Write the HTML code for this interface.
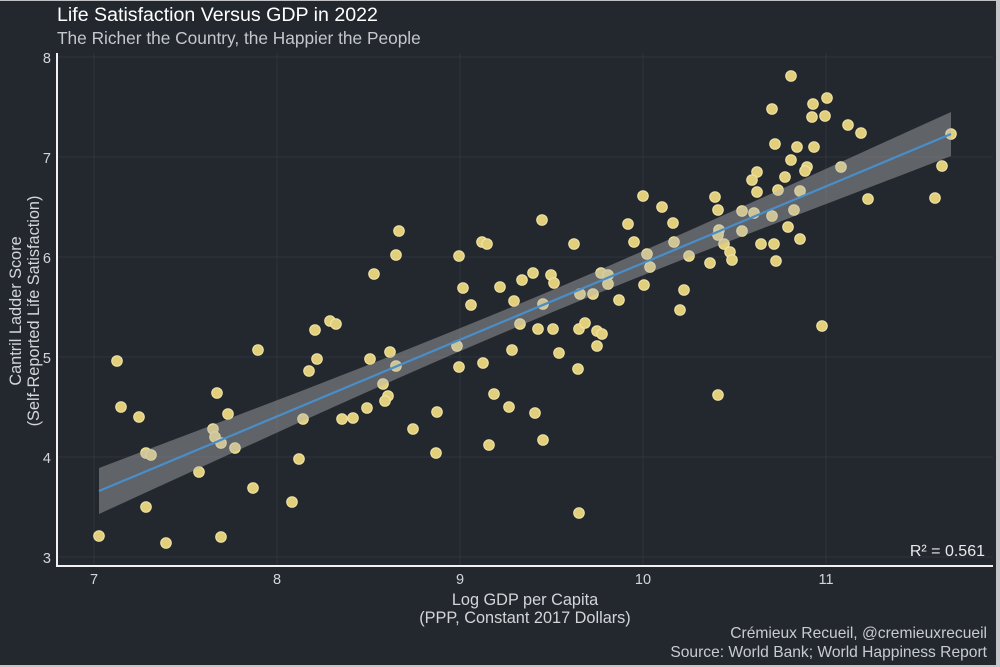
<!DOCTYPE html>
<html><head><meta charset="utf-8"><style>
html,body{margin:0;padding:0;background:#23282f;}
svg{display:block;}
text{font-family:"Liberation Sans",Arial,sans-serif;}
</style></head><body>
<svg width="1000" height="667" viewBox="0 0 1000 667" xmlns="http://www.w3.org/2000/svg">
<rect x="0" y="0" width="1000" height="667" fill="#23282f"/>
<rect x="0" y="0" width="1000" height="1" fill="#bfc1c4"/>
<rect x="996" y="0" width="4" height="667" fill="#c4c6c9"/>
<rect x="0" y="665" width="1000" height="2" fill="#c4c6c9"/>
<g stroke="#2f353d" stroke-width="1">
<line x1="94" y1="53" x2="94" y2="565"/>
<line x1="277" y1="53" x2="277" y2="565"/>
<line x1="460" y1="53" x2="460" y2="565"/>
<line x1="643" y1="53" x2="643" y2="565"/>
<line x1="826" y1="53" x2="826" y2="565"/>
<line x1="58" y1="57" x2="993" y2="57"/>
<line x1="58" y1="157" x2="993" y2="157"/>
<line x1="58" y1="257" x2="993" y2="257"/>
<line x1="58" y1="357" x2="993" y2="357"/>
<line x1="58" y1="457" x2="993" y2="457"/>
<line x1="58" y1="557" x2="993" y2="557"/>
</g>
<g fill="#e2cf7b" stroke="#f2e5a9" stroke-width="1">
<circle cx="99" cy="536" r="5.3"/><circle cx="117" cy="361" r="5.3"/><circle cx="121" cy="407" r="5.3"/><circle cx="139" cy="417" r="5.3"/><circle cx="146" cy="453" r="5.3"/><circle cx="151" cy="455" r="5.3"/><circle cx="146" cy="507" r="5.3"/><circle cx="166" cy="543" r="5.3"/><circle cx="199" cy="472" r="5.3"/><circle cx="217" cy="393" r="5.3"/><circle cx="213" cy="429" r="5.3"/><circle cx="215" cy="437" r="5.3"/><circle cx="221" cy="443" r="5.3"/><circle cx="228" cy="414" r="5.3"/><circle cx="235" cy="448" r="5.3"/><circle cx="221" cy="537" r="5.3"/><circle cx="253" cy="488" r="5.3"/><circle cx="258" cy="350" r="5.3"/><circle cx="292" cy="502" r="5.3"/><circle cx="299" cy="459" r="5.3"/><circle cx="303" cy="419" r="5.3"/><circle cx="309" cy="371" r="5.3"/><circle cx="315" cy="330" r="5.3"/><circle cx="317" cy="359" r="5.3"/><circle cx="330" cy="321" r="5.3"/><circle cx="336" cy="324" r="5.3"/><circle cx="342" cy="419" r="5.3"/><circle cx="353" cy="418" r="5.3"/><circle cx="367" cy="408" r="5.3"/><circle cx="370" cy="359" r="5.3"/><circle cx="374" cy="274" r="5.3"/>
<circle cx="383" cy="384" r="5.3"/><circle cx="388" cy="396" r="5.3"/><circle cx="385" cy="401" r="5.3"/><circle cx="396" cy="366" r="5.3"/><circle cx="390" cy="352" r="5.3"/><circle cx="396" cy="255" r="5.3"/><circle cx="399" cy="231" r="5.3"/><circle cx="413" cy="429" r="5.3"/><circle cx="437" cy="412" r="5.3"/><circle cx="436" cy="453" r="5.3"/><circle cx="459" cy="256" r="5.3"/><circle cx="463" cy="288" r="5.3"/><circle cx="471" cy="305" r="5.3"/><circle cx="457" cy="346" r="5.3"/><circle cx="459" cy="367" r="5.3"/><circle cx="482" cy="242" r="5.3"/><circle cx="487" cy="244" r="5.3"/><circle cx="483" cy="363" r="5.3"/><circle cx="494" cy="394" r="5.3"/><circle cx="509" cy="407" r="5.3"/><circle cx="500" cy="287" r="5.3"/><circle cx="514" cy="301" r="5.3"/><circle cx="512" cy="350" r="5.3"/><circle cx="520" cy="324" r="5.3"/><circle cx="522" cy="280" r="5.3"/><circle cx="533" cy="273" r="5.3"/><circle cx="542" cy="220" r="5.3"/><circle cx="538" cy="329" r="5.3"/><circle cx="535" cy="413" r="5.3"/><circle cx="543" cy="440" r="5.3"/><circle cx="489" cy="445" r="5.3"/><circle cx="543" cy="304" r="5.3"/><circle cx="551" cy="275" r="5.3"/><circle cx="554" cy="283" r="5.3"/><circle cx="553" cy="329" r="5.3"/><circle cx="559" cy="353" r="5.3"/><circle cx="574" cy="244" r="5.3"/><circle cx="578" cy="369" r="5.3"/><circle cx="579" cy="329" r="5.3"/><circle cx="585" cy="323" r="5.3"/><circle cx="580" cy="294" r="5.3"/><circle cx="593" cy="294" r="5.3"/><circle cx="597" cy="331" r="5.3"/><circle cx="602" cy="334" r="5.3"/><circle cx="597" cy="346" r="5.3"/><circle cx="601" cy="273" r="5.3"/><circle cx="608" cy="275" r="5.3"/><circle cx="608" cy="284" r="5.3"/><circle cx="619" cy="300" r="5.3"/><circle cx="628" cy="224" r="5.3"/><circle cx="634" cy="242" r="5.3"/><circle cx="643" cy="196" r="5.3"/><circle cx="644" cy="285" r="5.3"/><circle cx="647" cy="254" r="5.3"/><circle cx="650" cy="267" r="5.3"/><circle cx="662" cy="207" r="5.3"/><circle cx="673" cy="223" r="5.3"/><circle cx="674" cy="242" r="5.3"/><circle cx="684" cy="290" r="5.3"/><circle cx="680" cy="310" r="5.3"/><circle cx="689" cy="256" r="5.3"/><circle cx="579" cy="513" r="5.3"/><circle cx="718" cy="395" r="5.3"/>
<circle cx="791" cy="76" r="5.3"/><circle cx="772" cy="109" r="5.3"/><circle cx="813" cy="104" r="5.3"/><circle cx="827" cy="98" r="5.3"/><circle cx="812" cy="117" r="5.3"/><circle cx="825" cy="116" r="5.3"/><circle cx="848" cy="125" r="5.3"/><circle cx="861" cy="133" r="5.3"/><circle cx="951" cy="134" r="5.3"/><circle cx="775" cy="144" r="5.3"/><circle cx="797" cy="147" r="5.3"/><circle cx="814" cy="147" r="5.3"/><circle cx="791" cy="160" r="5.3"/><circle cx="807" cy="167" r="5.3"/><circle cx="805" cy="171" r="5.3"/><circle cx="841" cy="167" r="5.3"/><circle cx="942" cy="166" r="5.3"/><circle cx="757" cy="172" r="5.3"/><circle cx="752" cy="180" r="5.3"/><circle cx="785" cy="177" r="5.3"/><circle cx="757" cy="192" r="5.3"/><circle cx="778" cy="190" r="5.3"/><circle cx="800" cy="191" r="5.3"/><circle cx="868" cy="199" r="5.3"/><circle cx="935" cy="198" r="5.3"/><circle cx="715" cy="197" r="5.3"/><circle cx="718" cy="210" r="5.3"/><circle cx="742" cy="211" r="5.3"/><circle cx="754" cy="213" r="5.3"/><circle cx="772" cy="216" r="5.3"/><circle cx="794" cy="210" r="5.3"/><circle cx="788" cy="227" r="5.3"/><circle cx="719" cy="230" r="5.3"/><circle cx="718" cy="235" r="5.3"/><circle cx="742" cy="231" r="5.3"/><circle cx="724" cy="244" r="5.3"/><circle cx="761" cy="244" r="5.3"/><circle cx="774" cy="244" r="5.3"/><circle cx="800" cy="239" r="5.3"/><circle cx="730" cy="252" r="5.3"/><circle cx="732" cy="260" r="5.3"/><circle cx="776" cy="261" r="5.3"/><circle cx="710" cy="263" r="5.3"/><circle cx="822" cy="326" r="5.3"/>
</g>
<polygon fill="#b4b4b4" fill-opacity="0.42" points="99,468 150,448.6 200,429.7 250,410.5 300,391.5 350,372 400,352.4 450,332.3 500,311.9 550,291.1 600,269.7 650,247.9 700,225.7 750,203.3 800,180.6 850,157.9 900,135.1 951,112 951,156 900,175.7 850,194.9 800,214 750,233.3 700,252.7 650,272.5 600,292.5 550,313.1 500,334.1 450,355.5 400,377.4 350,399.6 300,422.1 250,444.9 200,467.7 150,490.6 99,514"/>
<line x1="99" y1="491" x2="951" y2="134" stroke="#4a8ec9" stroke-width="2.2"/>
<line x1="57" y1="53" x2="57" y2="567" stroke="#f2f2f2" stroke-width="2"/>
<line x1="56" y1="566" x2="993" y2="566" stroke="#f2f2f2" stroke-width="2"/>
<g fill="#d3d5d8" font-size="14.5">
<g text-anchor="middle">
<text x="94" y="584">7</text><text x="277" y="584">8</text><text x="460" y="584">9</text><text x="643" y="584">10</text><text x="826" y="584">11</text>
</g>
<g text-anchor="end">
<text x="51" y="63">8</text><text x="51" y="163">7</text><text x="51" y="263">6</text><text x="51" y="363">5</text><text x="51" y="463">4</text><text x="51" y="563">3</text>
</g>
</g>
<text x="57" y="21" fill="#ffffff" font-size="19.6">Life Satisfaction Versus GDP in 2022</text>
<text x="57" y="44" fill="#c4c7cb" font-size="17.3">The Richer the Country, the Happier the People</text>
<g fill="#d3d5d8" font-size="16.3" text-anchor="middle">
<text x="525" y="605">Log GDP per Capita</text>
<text x="525" y="623">(PPP, Constant 2017 Dollars)</text>
<text transform="translate(21,311) rotate(-90)">Cantril Ladder Score</text>
<text transform="translate(39,311) rotate(-90)">(Self-Reported Life Satisfaction)</text>
</g>
<text x="985" y="556" fill="#e8e9eb" font-size="16" text-anchor="end">R² = 0.561</text>
<g fill="#c8cbcf" font-size="15.6" text-anchor="end">
<text x="987" y="638">Crémieux Recueil, @cremieuxrecueil</text>
<text x="987" y="657">Source: World Bank; World Happiness Report</text>
</g>
</svg>
</body></html>
